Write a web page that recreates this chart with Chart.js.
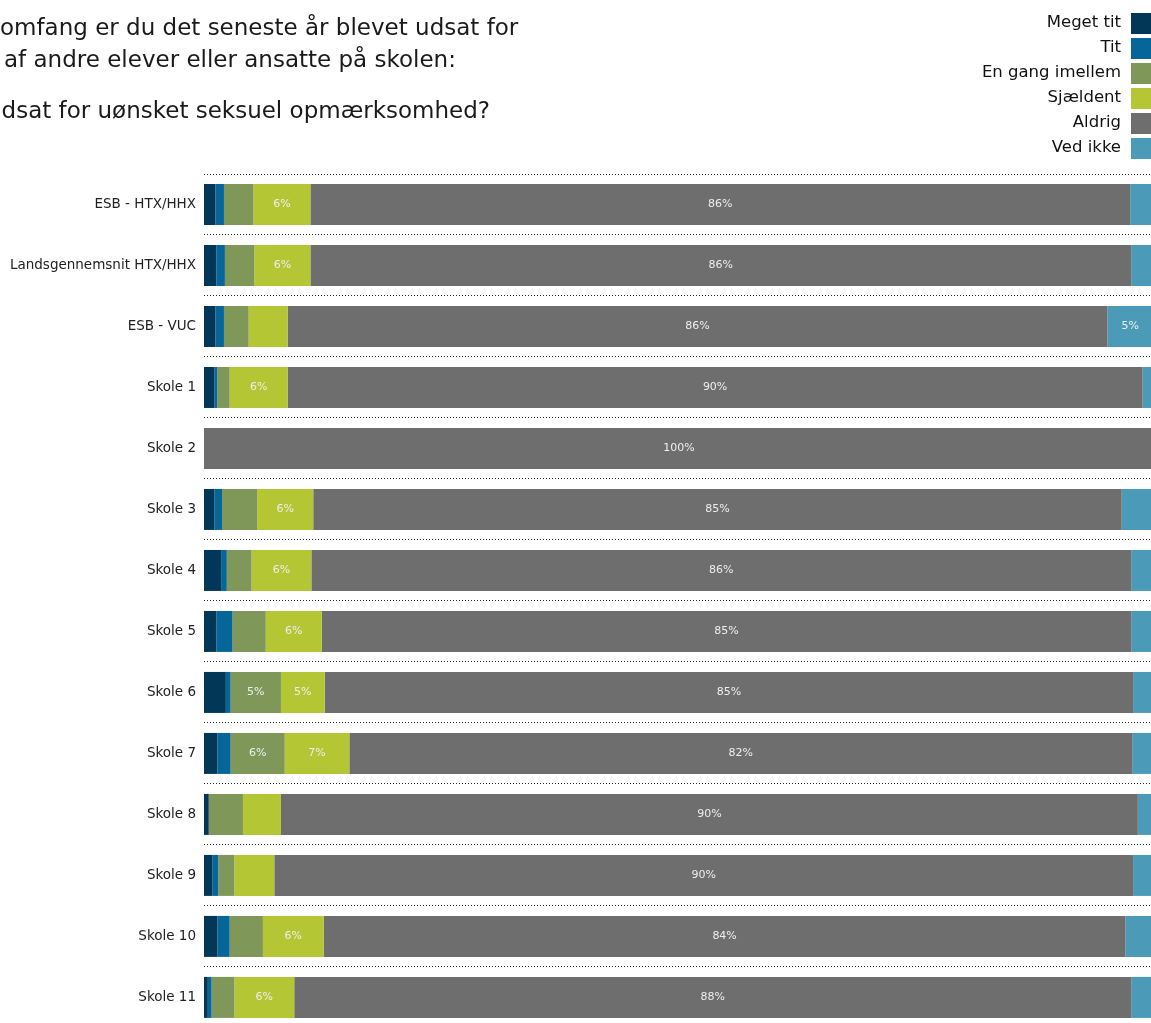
<!DOCTYPE html>
<html>
<head>
<meta charset="utf-8">
<script src="https://cdn.jsdelivr.net/npm/chart.js@4"></script>
<style>
html,body{margin:0;padding:0;overflow:hidden;background:#fff;}
#wrap{position:relative;width:1154px;height:1044px;}
</style>
</head>
<body>
<div id="wrap"><canvas id="c"></canvas></div>
<script>
const categories = ['ESB - HTX/HHX','Landsgennemsnit HTX/HHX','ESB - VUC','Skole 1','Skole 2','Skole 3','Skole 4','Skole 5','Skole 6','Skole 7','Skole 8','Skole 9','Skole 10','Skole 11'];
const seriesNames = ['Meget tit','Tit','En gang imellem','Sjældent','Aldrig','Ved ikke'];
const megetTit  = [1.2, 1.3, 1.2, 1.1, 0, 1.1, 1.8, 1.3, 2.3, 1.4, 0.5, 0.9, 1.4, 0.4];
const tit       = [0.9, 0.9, 0.9, 0.3, 0, 0.8, 0.6, 1.7, 0.5, 1.4, 0,   0.6, 1.3, 0.4];
const enGang    = [3.1, 3.1, 2.6, 1.3, 0, 3.7, 2.6, 3.5, 5.3, 5.7, 3.6, 1.7, 3.5, 2.4];
const sjaeldent = [6.0, 5.9, 4.1, 6.1, 0, 5.9, 6.3, 5.9, 4.6, 6.8, 4.0, 4.2, 6.4, 6.3];
const aldrig    = [86.3,86.4,86.3,90.0,100,85.1,86.3,85.2,85.1,82.4,90.2,90.4,84.4,88.1];
const vedIkke   = [2.5, 2.4, 4.8, 1.3, 0, 3.5, 2.3, 2.5, 2.2, 2.3, 1.7, 2.1, 2.9, 2.3];
const titleLines = [
  {text:'omfang er du det seneste år blevet udsat for', x:0, y:35},
  {text:'af andre elever eller ansatte på skolen:', x:4, y:67},
  {text:'udsat for uønsket seksuel opmærksomhed?', x:-13, y:118}
];
const colors = ['#023758','#066699','#7f9859','#b4c634','#6e6e6e','#4a9ab8'];
const values = [megetTit, tit, enGang, sjaeldent, aldrig, vedIkke];

const FONT = "'DejaVu Sans', Verdana, sans-serif";

const datasets = seriesNames.map((name,i)=>({
  label: name,
  data: values[i],
  backgroundColor: colors[i],
  borderWidth: 0,
  barPercentage: 0.672,
  categoryPercentage: 1
}));

const decorPlugin = {
  id: 'decor',
  afterDraw(chart){
    const ctx = chart.ctx;
    ctx.save();
    ctx.fillStyle = '#1a1a1a';
    ctx.font = '23px ' + FONT;
    ctx.textAlign = 'left';
    ctx.textBaseline = 'alphabetic';
    titleLines.forEach(l => ctx.fillText(l.text, l.x, l.y));
    ctx.font = '16.5px ' + FONT;
    ctx.textAlign = 'right';
    ctx.textBaseline = 'middle';
    chart.data.datasets.forEach((ds,i)=>{
      const top = 13 + i*25;
      ctx.fillStyle = ds.backgroundColor;
      ctx.fillRect(1131, top, 22, 21);
      ctx.fillStyle = '#111';
      ctx.fillText(ds.label, 1121, top + 10);
    });
    ctx.restore();
  },
  afterDatasetsDraw(chart){
    const ctx = chart.ctx;
    ctx.save();
    ctx.font = '11px ' + FONT;
    ctx.fillStyle = '#eeeeee';
    ctx.textAlign = 'center';
    ctx.textBaseline = 'middle';
    chart.data.datasets.forEach((ds,i)=>{
      const meta = chart.getDatasetMeta(i);
      meta.data.forEach((el,j)=>{
        const v = ds.data[j];
        if (v >= 4.5) {
          const p = el.getProps(['x','base','y'], true);
          ctx.fillText(Math.round(v) + '%', (p.x + p.base)/2, p.y);
        }
      });
    });
    ctx.restore();
  }
};

new Chart(document.getElementById('c'), {
  type: 'bar',
  data: { labels: categories, datasets },
  options: {
    indexAxis: 'y',
    responsive: true,
    maintainAspectRatio: false,
    devicePixelRatio: 1,
    animation: false,
    layout: { padding: { top: 174, bottom: 2, left: 0, right: 0 } },
    plugins: { legend: { display: false }, tooltip: { enabled: false }, title: { display: false } },
    scales: {
      x: { stacked: true, min: 0, max: 100, display: false },
      y: {
        stacked: true,
        offset: true,
        afterFit(scale){ scale.width = 204; },
        grid: { offset: true, drawTicks: false, color: '#2a2a2a', lineWidth: 1 },
        border: { display: false, dash: [1,2] },
        ticks: { padding: 8, color: '#222', font: { family: FONT, size: 13.5 } }
      }
    }
  },
  plugins: [decorPlugin]
});
</script>
</body>
</html>
